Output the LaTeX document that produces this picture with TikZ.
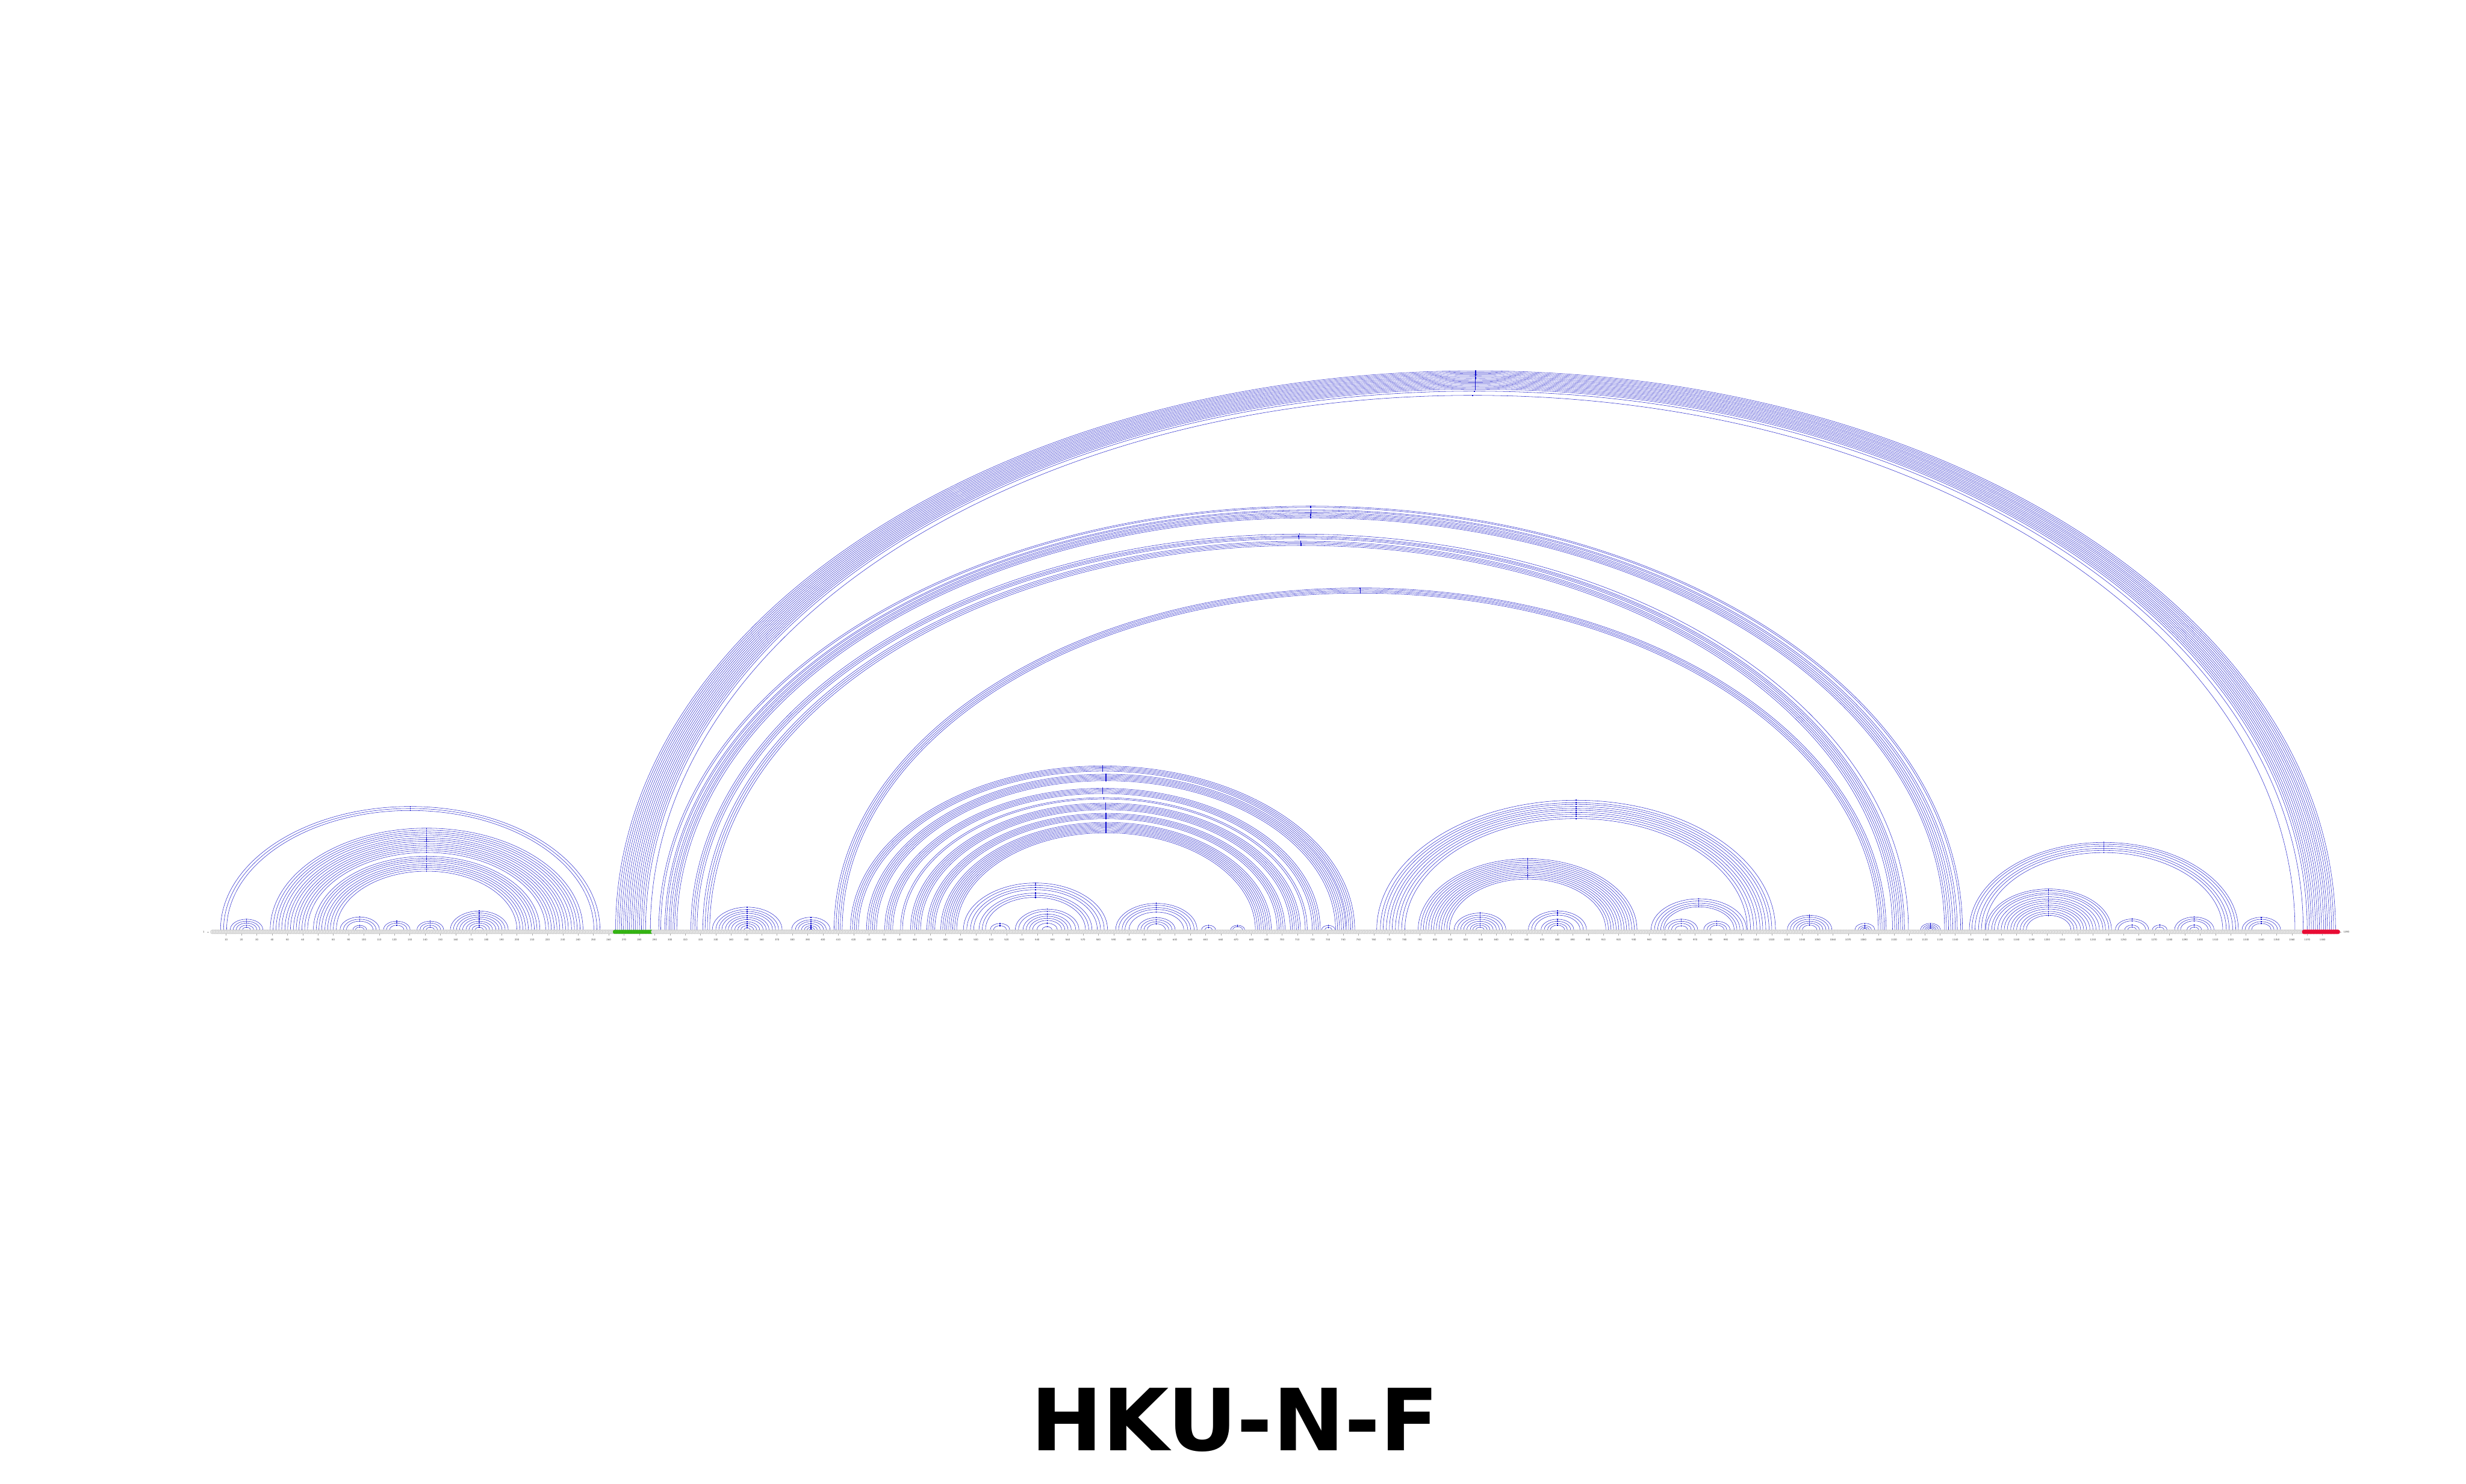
\documentclass[tikz,border=0pt]{standalone}
\usepackage{fontspec}
\usepackage{tikz}
\usetikzlibrary{positioning}
\newfontfamily\titlefont{DejaVu Sans}

\definecolor{arcblue}{RGB}{45,45,205}
\definecolor{apexblue}{RGB}{15,15,205}
\definecolor{ntgrey}{RGB}{234,234,234}
\definecolor{ntedge}{RGB}{165,165,165}
\definecolor{fivegreen}{RGB}{55,190,20}
\definecolor{threered}{RGB}{232,12,52}

% one base pair = one arc, feet given as sequence positions
\newcommand{\bandtop}{0.06}
\newcommand{\bpair}[2]{%
  \pgfmathsetmacro{\arcl}{#1}%
  \pgfmathsetmacro{\arcc}{((#1)+(#2))/2}%
  \pgfmathsetmacro{\arcr}{((#2)-(#1))/2*0.045526}%
  \pgfmathsetmacro{\arch}{\arcr*0.65}%
  \draw[pairarc] (\arcl,\bandtop) arc[start angle=180,end angle=0,x radius=\arcr cm,y radius=\arch cm];%
  \draw[apex] (\arcc,\bandtop+\arch-0.02) -- (\arcc,\bandtop+\arch+0.02);%
}
% nested arcs round one centre, list of half widths
\newcommand{\helixnest}[2]{\foreach \hw in {#2}{\bpair{#1-\hw}{#1+\hw}}}
% stem: left foot, right foot, count, left step, right step
\newcommand{\helixstem}[5]{\foreach \k in {1,...,#3}{\bpair{#1+(\k-1)*#4}{#2-(\k-1)*#5}}}

\begin{document}
\begin{tikzpicture}[
  pairarc/.style={draw=arcblue,line width=0.28pt},
  apex/.style={draw=apexblue,line width=0.7pt},
  nt/.style={fill=ntgrey,draw=ntedge,line width=0.12pt},
  ntgreen/.style={fill=fivegreen,draw=fivegreen!70!black,line width=0.12pt},
  ntred/.style={fill=threered,draw=threered},
  tickmark/.style={draw=ntedge,line width=0.2pt},
  ticklab/.style={font=\sffamily\fontsize{2.3}{2.6}\selectfont,text=black!75,inner sep=0pt},
  title/.style={font=\titlefont\bfseries\fontsize{72.6}{80}\selectfont,inner sep=0pt}]
\useasboundingbox (0,-16.43) rectangle (73.38,27.73);

\begin{scope}[x=0.045526cm,xshift=6.275cm]
% 5' domain
\helixnest{130.3}{124,122,120}
\helixnest{23.3}{10.7,8.7,6.8,4.7,2.6}
\helixnest{141}{102.2,100.3,98.4,96.6,94.7,92.6,90.8,89,87,85.2,83.4,81.5,79.7,77.8,74,72.1,70.4,68.6,66.5,64.7,62.9,61,59}
\helixnest{97.3}{12.9,10.7,8.7,4.5,2.8}
\helixnest{121.5}{8.7,6.8,4.7}
\helixnest{143.4}{8.7,6.8,4.7,2.6}
\helixnest{175.4}{18.9,16.9,14.9,12.9,10.9,8.7,6.8,4.7,2.6}

% long range stems
\foreach \a/\b in {264.5/1388.5,265.8/1387.2,267.1/1385.9,268.4/1384.6,269.7/1383.2,271/1382,272.3/1380.7,273.6/1379.3,274.9/1378,276.2/1376.7,277.5/1375.4,278.8/1374,280.1/1372.7,281.4/1371.4,282.7/1370,284.1/1367.4,287.2/1362}{\bpair{\a}{\b}}
\foreach \a/\b in {292.7/1144.7,294/1143.5,296.7/1141.3,297.8/1140,299.4/1138.4,300.6/1137,302/1135.6,303.1/1134.2,304.5/1133}{\bpair{\a}{\b}}
\foreach \a/\b in {313.7/1109.4,315/1106.8,316.3/1105.6,317.7/1104.3,321.5/1103,323/1101.7,324.5/1100.4,326/1099}{\bpair{\a}{\b}}
\foreach \a/\b in {407.3/1094.8,408.6/1093.6,410/1092.2,411.3/1091,412.6/1089.7}{\bpair{\a}{\b}}

\helixnest{350.5}{22.8,20.5,18.5,16.6,14.3,12.4,10.4,8.1,6.2,4.2,2.1}
\helixnest{392.1}{12.6,10.1,8.3,6.2,4.2,2.5,1}

% central domain
\helixstem{418}{747.5}{5}{1.3}{1.3}
\helixstem{428.5}{741.5}{6}{1.3}{1.3}
\helixstem{440.4}{725}{5}{1.3}{1.3}
\helixstem{450.7}{716.5}{2}{1.3}{1.3}
\helixstem{457.3}{712}{6}{1.3}{1.3}
\helixstem{467.9}{702}{5}{1.3}{1.3}
\helixstem{477}{693}{9}{1.3}{1.3}
\helixnest{538.9}{47.1,44.9,42.5,40.4,36.9,34.8,32.7}
\helixnest{515.7}{6.4,4.2}
\helixnest{546.5}{20.8,18.7,15.8,13.7,11.6,9.5,6.7,3.2}
\helixnest{617.9}{26.6,24.7,22.4,20.5,17.9,12.3,10.2,8.1,6.0}
\helixnest{652}{4.6,2.5}
\helixnest{671}{4.6,3.2}
\helixnest{730.3}{4.4,2.4}

\helixnest{892.2}{130.3,127.9,126.1,124,122,120.2,118.1,116.1,114,111.9}
\helixstem{789}{932}{13}{1.7}{1.7}
\helixnest{829.4}{16.9,14.8,12.7,10.7,8.6,6.5,4.7,2.7}
\helixnest{880}{19,16.9,14.8,10.7,8.6,6.5,4.7}
\helixnest{972.4}{31.2,29,26.9,24.9,23.1}
\helixnest{961}{10.7,8.6,6.5,4.1}
\helixnest{984.2}{8.6,6.5,4.7}

% 3' domain
\helixnest{1044.8}{14.6,12.7,10.7,8.7,6.8,4.8}
\helixnest{1080.9}{6.5,4.3,2.8,1.5}
\helixnest{1123.8}{6.5,5.1,3.7,2.6,1.5}
\helixnest{1237.1}{87.9,86.2,84.2,81.9,80,77.7}
\helixnest{1201}{41.1,39.4,37.2,35.5,33.2,31,29,27,24.8,22.9,20.9,18.6,16.6,14.6}
\helixnest{1255.5}{10.9,9,4.8,2.8}
\helixnest{1273.6}{4.8,2.8}
\helixnest{1296.2}{12.9,10.9,9,4.8,2.8}
\helixnest{1340}{12.6,10.6,8.3,6.4}

% sequence band
\foreach \i in {1,...,263}{\filldraw[nt] (\i,0) circle[radius=0.06cm];}
\foreach \i in {264,...,288}{\filldraw[ntgreen] (\i,0) circle[radius=0.06cm];}
\foreach \i in {289,...,1367}{\filldraw[nt] (\i,0) circle[radius=0.06cm];}
\foreach \i in {1368,...,1390}{\filldraw[ntred] (\i,0) circle[radius=0.06cm];}

% ruler
\foreach \t in {10,20,...,1380}{
  \draw[tickmark] (\t,-0.065) -- (\t,-0.11);
  \node[ticklab] (lab\t) at (\t,-0.23) {\t};
}
\node[ticklab] (first) at (-4.7,0) {1};
\coordinate (firstdash) at (-1.2,0);
\draw[tickmark] (-2.5,0) -- (firstdash);
\node[ticklab] (last) at (1395.6,0) {1390};
\coordinate (lastdash) at (1391.7,0);
\draw[tickmark] (lastdash) -- (1392.5,0);
\end{scope}

\node[title] (name) at (36.74,-14.53) {HKU-N-F};
\end{tikzpicture}
\end{document}
